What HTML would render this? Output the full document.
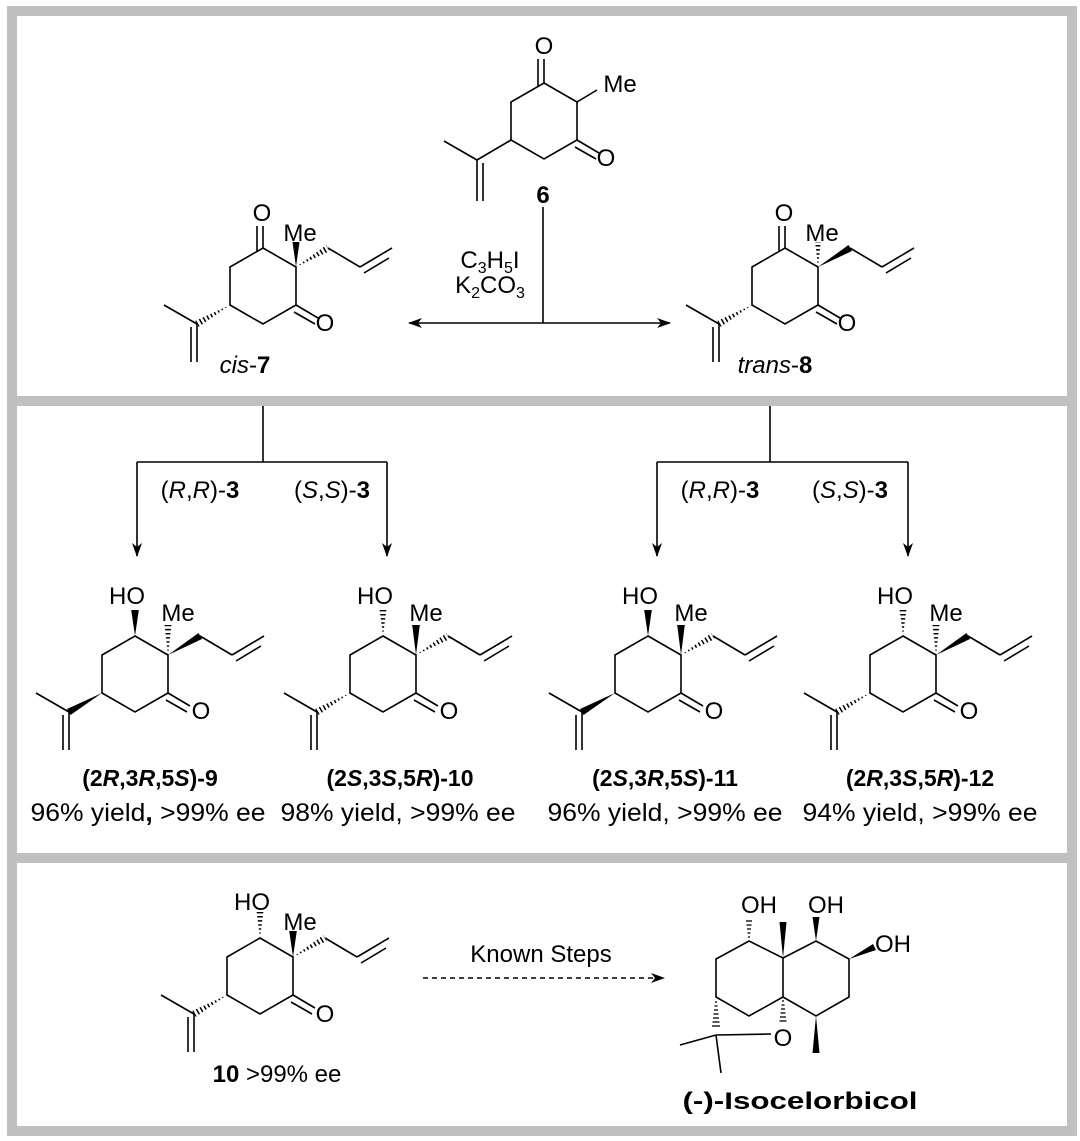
<!DOCTYPE html>
<html><head><meta charset="utf-8"><style>
html,body{margin:0;padding:0;background:#fff}
svg{display:block}
text{font-family:"Liberation Sans",Arial,sans-serif;font-size:24px;fill:#000}
.lab{font-size:23px}
.yl{font-size:25px}
</style></head><body>
<svg width="1080" height="1141" viewBox="0 0 1080 1141" xmlns="http://www.w3.org/2000/svg">
<defs>
<clipPath id="cHO" clipPathUnits="userSpaceOnUse"><polygon points="0,-38 -3.8,-67 3.8,-67"/></clipPath>
<clipPath id="cMe" clipPathUnits="userSpaceOnUse"><polygon points="33,-19 29.2,-52 36.8,-52"/></clipPath>
<clipPath id="cAl" clipPathUnits="userSpaceOnUse"><polygon points="33,-19 63.5,-41 67,-35"/></clipPath>
<clipPath id="cIp" clipPathUnits="userSpaceOnUse"><polygon points="-33,19 -68,35 -64.5,41"/></clipPath>
<marker id="ah" markerWidth="14" markerHeight="10" refX="13" refY="5" orient="auto" markerUnits="userSpaceOnUse"><path d="M0,0 L14,5 L0,10 L4,5 Z" fill="#000"/></marker>
</defs>

<g fill="none" stroke="#c0c0c0" stroke-width="10">
<rect x="12" y="11" width="1060" height="1120"/>
<line x1="12" y1="401" x2="1072" y2="401"/>
<line x1="12" y1="858" x2="1072" y2="858"/>
</g>

<g stroke="#000" stroke-width="1.6" fill="none">

<g transform="translate(544,121)">
<path d="M0,-38 L33,-19 L33,19 L0,38 L-33,19 L-33,-19 Z"/>
<line x1="0" y1="-38" x2="0" y2="-62"/><line x1="-6" y1="-35" x2="-6" y2="-62"/>
<line x1="33" y1="19" x2="55" y2="32"/><line x1="31" y1="26" x2="52" y2="38"/>
<line x1="33" y1="-19" x2="53" y2="-31"/>
<line x1="-33" y1="19" x2="-67" y2="39"/><line x1="-67" y1="39" x2="-100" y2="20"/>
<line x1="-67" y1="39" x2="-67" y2="80"/><line x1="-61" y1="42" x2="-61" y2="80"/>
</g>

<line x1="543" y1="207" x2="543" y2="323"/>
<line x1="543" y1="323" x2="409" y2="323" marker-end="url(#ah)"/>
<line x1="543" y1="323" x2="670" y2="323" marker-end="url(#ah)"/>

<g transform="translate(263,286)">
<path d="M0,-38 L33,-19 L33,19 L0,38 L-33,19 L-33,-19 Z"/>
<line x1="0" y1="-38" x2="0" y2="-60"/><line x1="-6" y1="-35" x2="-6" y2="-60"/>
<line x1="33" y1="19" x2="55" y2="32"/><line x1="31" y1="26" x2="52" y2="38"/>
<polygon points="33,-19 29.5,-44 36.5,-44" fill="#000" stroke="none"/>
<line x1="33" y1="-19" x2="65" y2="-38" stroke-width="8" stroke-dasharray="1.5 2.6" clip-path="url(#cAl)"/>
<line x1="65" y1="-38" x2="97" y2="-19"/><line x1="97" y1="-19" x2="129" y2="-38"/><line x1="101" y1="-13" x2="126" y2="-28"/>
<line x1="-33" y1="19" x2="-66" y2="38" stroke-width="8" stroke-dasharray="1.5 2.6" clip-path="url(#cIp)"/>
<line x1="-66" y1="38" x2="-99" y2="19"/>
<line x1="-66" y1="38" x2="-66" y2="76"/><line x1="-72" y1="41" x2="-72" y2="76"/>
</g>

<g transform="translate(785,286)">
<path d="M0,-38 L33,-19 L33,19 L0,38 L-33,19 L-33,-19 Z"/>
<line x1="0" y1="-38" x2="0" y2="-60"/><line x1="-6" y1="-35" x2="-6" y2="-60"/>
<line x1="33" y1="19" x2="55" y2="32"/><line x1="31" y1="26" x2="52" y2="38"/>
<line x1="33" y1="-19" x2="33" y2="-44" stroke-width="8" stroke-dasharray="1.5 2.6" clip-path="url(#cMe)"/>
<polygon points="33,-19 63.5,-41 67,-35" fill="#000" stroke="none"/>
<line x1="65" y1="-38" x2="97" y2="-19"/><line x1="97" y1="-19" x2="129" y2="-38"/><line x1="101" y1="-13" x2="126" y2="-28"/>
<line x1="-33" y1="19" x2="-66" y2="38" stroke-width="8" stroke-dasharray="1.5 2.6" clip-path="url(#cIp)"/>
<line x1="-66" y1="38" x2="-99" y2="19"/>
<line x1="-66" y1="38" x2="-66" y2="76"/><line x1="-72" y1="41" x2="-72" y2="76"/>
</g>

<line x1="263" y1="406" x2="263" y2="462"/>
<line x1="137" y1="462" x2="387" y2="462"/>
<line x1="137" y1="462" x2="137" y2="556" marker-end="url(#ah)"/>
<line x1="387" y1="462" x2="387" y2="556" marker-end="url(#ah)"/>
<line x1="770" y1="406" x2="770" y2="462"/>
<line x1="657" y1="462" x2="908" y2="462"/>
<line x1="657" y1="462" x2="657" y2="556" marker-end="url(#ah)"/>
<line x1="908" y1="462" x2="908" y2="556" marker-end="url(#ah)"/>

<g transform="translate(135,674)">
<path d="M0,-38 L33,-19 L33,19 L0,38 L-33,19 L-33,-19 Z"/>
<line x1="33" y1="19" x2="55" y2="32"/><line x1="31" y1="26" x2="52" y2="38"/>
<polygon points="0,-38 -3.8,-64 3.8,-64" fill="#000" stroke="none"/>
<line x1="33" y1="-19" x2="33" y2="-49" stroke-width="8" stroke-dasharray="1.5 2.6" clip-path="url(#cMe)"/>
<polygon points="33,-19 63.5,-41 67,-35" fill="#000" stroke="none"/>
<line x1="65" y1="-38" x2="97" y2="-19"/><line x1="97" y1="-19" x2="129" y2="-38"/><line x1="101" y1="-13" x2="126" y2="-28"/>
<polygon points="-33,19 -68,35 -64.5,41" fill="#000" stroke="none"/>
<line x1="-66" y1="38" x2="-99" y2="19"/>
<line x1="-66" y1="38" x2="-66" y2="76"/><line x1="-72" y1="41" x2="-72" y2="76"/>
</g>

<g transform="translate(383,674)">
<path d="M0,-38 L33,-19 L33,19 L0,38 L-33,19 L-33,-19 Z"/>
<line x1="33" y1="19" x2="55" y2="32"/><line x1="31" y1="26" x2="52" y2="38"/>
<line x1="0" y1="-38" x2="0" y2="-64" stroke-width="8" stroke-dasharray="1.5 2.6" clip-path="url(#cHO)"/>
<polygon points="33,-19 29.2,-49 36.8,-49" fill="#000" stroke="none"/>
<line x1="33" y1="-19" x2="65" y2="-38" stroke-width="8" stroke-dasharray="1.5 2.6" clip-path="url(#cAl)"/>
<line x1="65" y1="-38" x2="97" y2="-19"/><line x1="97" y1="-19" x2="129" y2="-38"/><line x1="101" y1="-13" x2="126" y2="-28"/>
<line x1="-33" y1="19" x2="-66" y2="38" stroke-width="8" stroke-dasharray="1.5 2.6" clip-path="url(#cIp)"/>
<line x1="-66" y1="38" x2="-99" y2="19"/>
<line x1="-66" y1="38" x2="-66" y2="76"/><line x1="-72" y1="41" x2="-72" y2="76"/>
</g>

<g transform="translate(648,674)">
<path d="M0,-38 L33,-19 L33,19 L0,38 L-33,19 L-33,-19 Z"/>
<line x1="33" y1="19" x2="55" y2="32"/><line x1="31" y1="26" x2="52" y2="38"/>
<polygon points="0,-38 -3.8,-64 3.8,-64" fill="#000" stroke="none"/>
<polygon points="33,-19 29.2,-49 36.8,-49" fill="#000" stroke="none"/>
<line x1="33" y1="-19" x2="65" y2="-38" stroke-width="8" stroke-dasharray="1.5 2.6" clip-path="url(#cAl)"/>
<line x1="65" y1="-38" x2="97" y2="-19"/><line x1="97" y1="-19" x2="129" y2="-38"/><line x1="101" y1="-13" x2="126" y2="-28"/>
<polygon points="-33,19 -68,35 -64.5,41" fill="#000" stroke="none"/>
<line x1="-66" y1="38" x2="-99" y2="19"/>
<line x1="-66" y1="38" x2="-66" y2="76"/><line x1="-72" y1="41" x2="-72" y2="76"/>
</g>

<g transform="translate(903,674)">
<path d="M0,-38 L33,-19 L33,19 L0,38 L-33,19 L-33,-19 Z"/>
<line x1="33" y1="19" x2="55" y2="32"/><line x1="31" y1="26" x2="52" y2="38"/>
<line x1="0" y1="-38" x2="0" y2="-64" stroke-width="8" stroke-dasharray="1.5 2.6" clip-path="url(#cHO)"/>
<line x1="33" y1="-19" x2="33" y2="-49" stroke-width="8" stroke-dasharray="1.5 2.6" clip-path="url(#cMe)"/>
<polygon points="33,-19 63.5,-41 67,-35" fill="#000" stroke="none"/>
<line x1="65" y1="-38" x2="97" y2="-19"/><line x1="97" y1="-19" x2="129" y2="-38"/><line x1="101" y1="-13" x2="126" y2="-28"/>
<line x1="-33" y1="19" x2="-66" y2="38" stroke-width="8" stroke-dasharray="1.5 2.6" clip-path="url(#cIp)"/>
<line x1="-66" y1="38" x2="-99" y2="19"/>
<line x1="-66" y1="38" x2="-66" y2="76"/><line x1="-72" y1="41" x2="-72" y2="76"/>
</g>

<g transform="translate(260,976)">
<path d="M0,-38 L33,-19 L33,19 L0,38 L-33,19 L-33,-19 Z"/>
<line x1="33" y1="19" x2="55" y2="32"/><line x1="31" y1="26" x2="52" y2="38"/>
<line x1="0" y1="-38" x2="0" y2="-64" stroke-width="8" stroke-dasharray="1.5 2.6" clip-path="url(#cHO)"/>
<polygon points="33,-19 29.2,-45 36.8,-45" fill="#000" stroke="none"/>
<line x1="33" y1="-19" x2="65" y2="-38" stroke-width="8" stroke-dasharray="1.5 2.6" clip-path="url(#cAl)"/>
<line x1="65" y1="-38" x2="97" y2="-19"/><line x1="97" y1="-19" x2="129" y2="-38"/><line x1="101" y1="-13" x2="126" y2="-28"/>
<line x1="-33" y1="19" x2="-66" y2="38" stroke-width="8" stroke-dasharray="1.5 2.6" clip-path="url(#cIp)"/>
<line x1="-66" y1="38" x2="-99" y2="19"/>
<line x1="-66" y1="38" x2="-66" y2="76"/><line x1="-72" y1="41" x2="-72" y2="76"/>
</g>

<line x1="423" y1="978" x2="664" y2="978" stroke-dasharray="5 4" marker-end="url(#ah)"/>

<path d="M749,941 L783,958 L783,997 L749,1016 L716,997 L716,959 Z"/>
<path d="M783,958 L816,941 L849,959 L849,997 L816,1016 L783,997"/>
<polygon points="783,958 779.5,922 786.5,922" fill="#000" stroke="none"/>
<polygon points="816,941 812.5,917 819.5,917" fill="#000" stroke="none"/>
<polygon points="849,959 873,944 876,950" fill="#000" stroke="none"/>
<polygon points="816,1016 812.5,1053 819.5,1053" fill="#000" stroke="none"/>
<g stroke-width="1.3">
<line x1="748" y1="937" x2="750" y2="937"/><line x1="747.5" y1="933" x2="750.5" y2="933"/><line x1="747" y1="929" x2="751" y2="929"/><line x1="746.5" y1="925" x2="751.5" y2="925"/><line x1="746" y1="921" x2="752" y2="921"/>
<line x1="782" y1="1001" x2="784" y2="1001"/><line x1="781.5" y1="1005" x2="784.5" y2="1005"/><line x1="781" y1="1009" x2="785" y2="1009"/><line x1="780.5" y1="1013" x2="785.5" y2="1013"/><line x1="780" y1="1017" x2="786" y2="1017"/><line x1="779.5" y1="1021" x2="786.5" y2="1021"/>
<line x1="715" y1="1002" x2="717" y2="1002"/><line x1="714.5" y1="1006" x2="717.5" y2="1006"/><line x1="714" y1="1010" x2="718" y2="1010"/><line x1="713.5" y1="1014" x2="718.5" y2="1014"/><line x1="713" y1="1018" x2="719" y2="1018"/><line x1="712.5" y1="1022" x2="719.5" y2="1022"/><line x1="712" y1="1026" x2="720" y2="1026"/>
</g>
<line x1="716" y1="1035" x2="771" y2="1034"/>
<line x1="716" y1="1035" x2="680" y2="1045"/>
<line x1="716" y1="1035" x2="721" y2="1073"/>
</g>

<g text-anchor="middle">
<text x="544" y="54">O</text>
<text x="620" y="92">Me</text>
<text x="606" y="166">O</text>
<text x="543" y="203" font-weight="bold">6</text>
<text x="490" y="268">C<tspan font-size="16" dy="5">3</tspan><tspan dy="-5">H</tspan><tspan font-size="16" dy="5">5</tspan><tspan dy="-5">I</tspan></text>
<text x="490" y="293">K<tspan font-size="16" dy="5">2</tspan><tspan dy="-5">CO</tspan><tspan font-size="16" dy="5">3</tspan></text>

<text x="262" y="221">O</text>
<text x="300" y="241">Me</text>
<text x="325" y="331">O</text>
<text x="245" y="373"><tspan font-style="italic">cis</tspan>-<tspan font-weight="bold">7</tspan></text>

<text x="784" y="221">O</text>
<text x="822" y="241">Me</text>
<text x="847" y="331">O</text>
<text x="775" y="373"><tspan font-style="italic">trans</tspan>-<tspan font-weight="bold">8</tspan></text>

<text x="200" y="498">(<tspan font-style="italic">R</tspan>,<tspan font-style="italic">R</tspan>)-<tspan font-weight="bold">3</tspan></text>
<text x="332" y="498">(<tspan font-style="italic">S</tspan>,<tspan font-style="italic">S</tspan>)-<tspan font-weight="bold">3</tspan></text>
<text x="720" y="498">(<tspan font-style="italic">R</tspan>,<tspan font-style="italic">R</tspan>)-<tspan font-weight="bold">3</tspan></text>
<text x="850" y="498">(<tspan font-style="italic">S</tspan>,<tspan font-style="italic">S</tspan>)-<tspan font-weight="bold">3</tspan></text>

<text x="127" y="604">HO</text><text x="178" y="621">Me</text><text x="201" y="719">O</text>
<text x="375" y="604">HO</text><text x="426" y="621">Me</text><text x="449" y="719">O</text>
<text x="640" y="604">HO</text><text x="691" y="621">Me</text><text x="714" y="719">O</text>
<text x="895" y="604">HO</text><text x="946" y="621">Me</text><text x="969" y="719">O</text>

<text class="lab" x="150" y="786" font-weight="bold">(2<tspan font-style="italic">R</tspan>,3<tspan font-style="italic">R</tspan>,5<tspan font-style="italic">S</tspan>)-9</text>
<text class="yl" x="148" y="821" textLength="235" lengthAdjust="spacingAndGlyphs">96% yield<tspan font-weight="bold">,</tspan> &gt;99% ee</text>
<text class="lab" x="400" y="786" font-weight="bold">(2<tspan font-style="italic">S</tspan>,3<tspan font-style="italic">S</tspan>,5<tspan font-style="italic">R</tspan>)-10</text>
<text class="yl" x="398" y="821" textLength="235" lengthAdjust="spacingAndGlyphs">98% yield, &gt;99% ee</text>
<text class="lab" x="665" y="786" font-weight="bold">(2<tspan font-style="italic">S</tspan>,3<tspan font-style="italic">R</tspan>,5<tspan font-style="italic">S</tspan>)-11</text>
<text class="yl" x="665" y="821" textLength="235" lengthAdjust="spacingAndGlyphs">96% yield, &gt;99% ee</text>
<text class="lab" x="920" y="786" font-weight="bold">(2<tspan font-style="italic">R</tspan>,3<tspan font-style="italic">S</tspan>,5<tspan font-style="italic">R</tspan>)-12</text>
<text class="yl" x="920" y="821" textLength="235" lengthAdjust="spacingAndGlyphs">94% yield, &gt;99% ee</text>

<text x="252" y="910">HO</text><text x="300" y="930">Me</text><text x="325" y="1022">O</text>
<text x="277" y="1082"><tspan font-weight="bold">10</tspan> &gt;99% ee</text>
<text x="541" y="962">Known Steps</text>

<text x="759" y="913">OH</text>
<text x="826" y="913">OH</text>
<text x="893" y="952">OH</text>
<text x="783" y="1046">O</text>
<text x="800" y="1109" font-weight="bold" font-size="30" textLength="235" lengthAdjust="spacingAndGlyphs">(-)-Isocelorbicol</text>
</g>
</svg>
</body></html>
